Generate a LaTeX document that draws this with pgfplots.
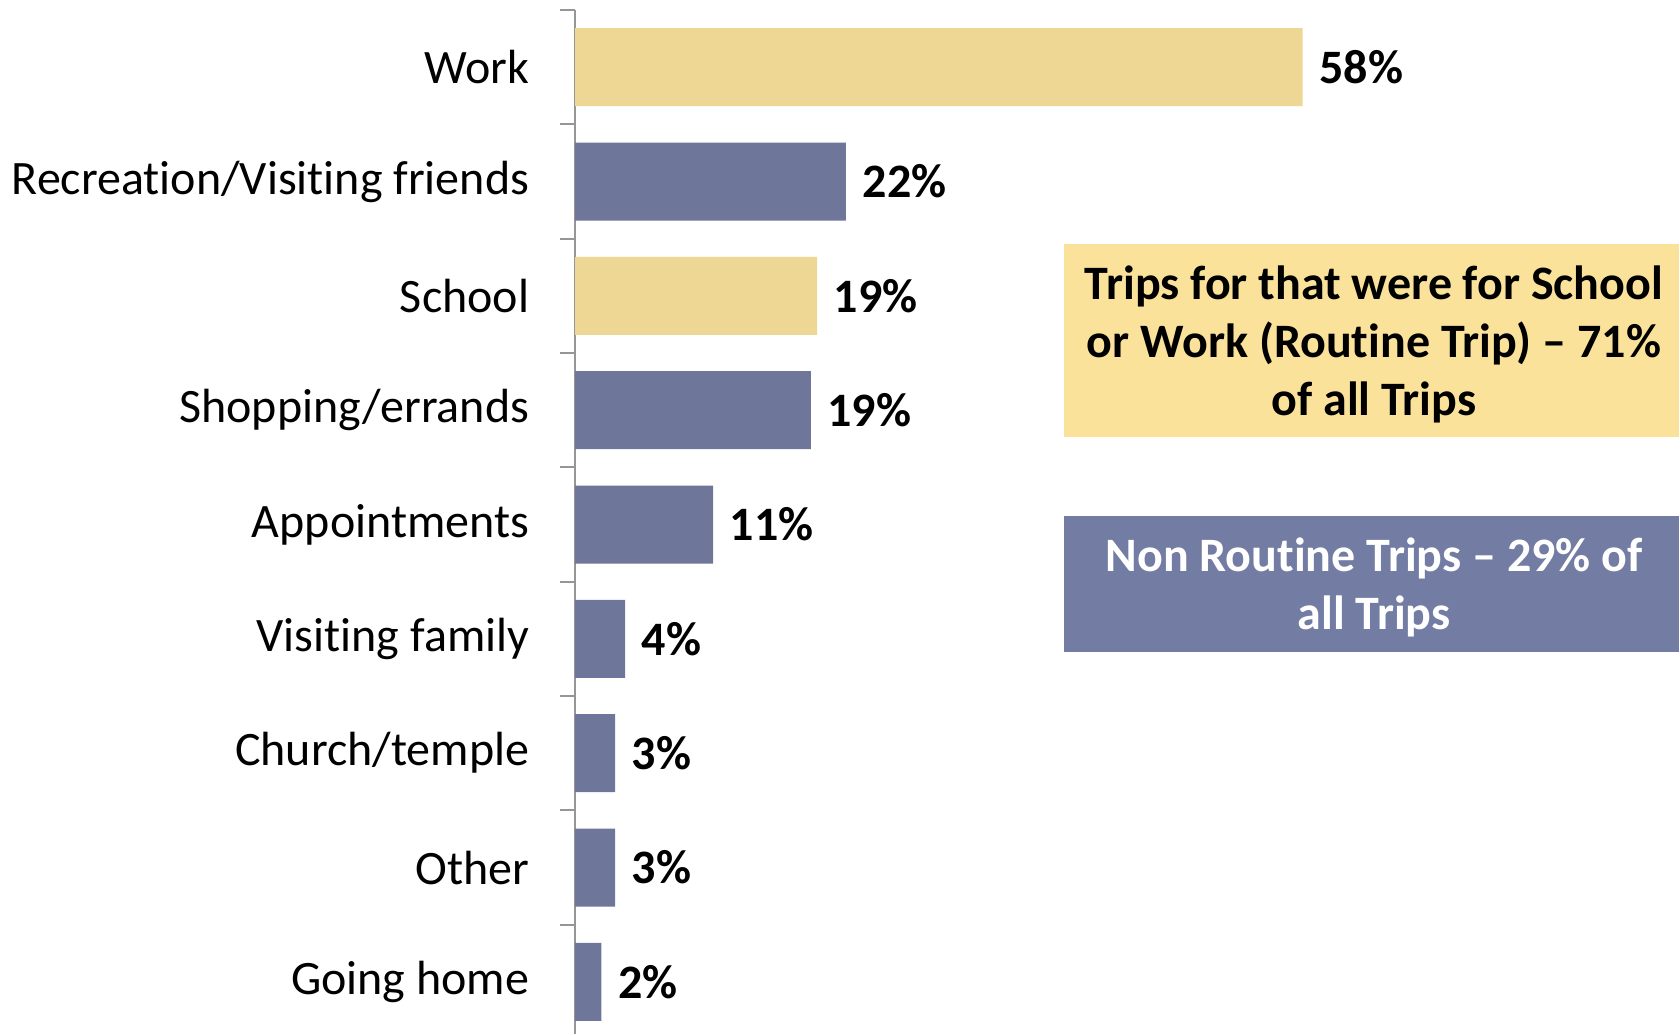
\documentclass[border=0pt]{standalone}
\usepackage{pgfplots}
\pgfplotsset{compat=1.18}
\usepackage{pgfplotstable}
\usepackage{fontspec}
\setmainfont{Carlito}[Ligatures=NoCommon]
\definecolor{baryel}{RGB}{238,215,148}
\definecolor{barblu}{RGB}{110,119,153}
\definecolor{boxyel}{RGB}{250,226,155}
\definecolor{boxblu}{RGB}{115,124,163}
\definecolor{axgray}{RGB}{150,150,150}

\pgfplotstableread{
pos val lab
0 58 58
2 19.3 19
}\routine
\pgfplotstableread{
pos val lab
1 21.6 22
3 18.8 19
4 11.0 11
5 4.0 4
6 3.2 3
7 3.2 3
8 2.1 2
}\nonroutine

\begin{document}
\fontsize{12pt}{14.5pt}\selectfont
\begin{tikzpicture}
\useasboundingbox (0,0) rectangle (419.75pt,-258.25pt);
\begin{axis}[
 at={(143.75pt,-2.5pt)}, anchor=north west,
 scale only axis, width=276pt, height=257.25pt,
 xmin=0, xmax=88, ymin=-0.5, ymax=8.5, y dir=reverse,
 axis x line=none, axis y line*=left,
 ytick={0,...,8},
 yticklabels={Work,Recreation/Visiting friends,School,Shopping/errands,Appointments,Visiting family,Church/temple,Other,Going home},
 major tick length=0pt,
 minor ytick={-0.5,0.5,...,8.5}, minor tick length=3.75pt, tick align=outside,
 y axis line style={axgray, line width=0.5pt},
 tick style={axgray, line width=0.5pt},
 yticklabel style={font=\fontsize{12pt}{14pt}\selectfont, inner sep=0pt, xshift=-11.25pt},
 xbar, bar width=19.5pt,
 nodes near coords={\pgfplotspointmeta\%},
 nodes near coords style={font=\fontsize{12pt}{14pt}\selectfont\bfseries, anchor=west, inner sep=0pt, xshift=4pt, text=black},
 point meta=explicit symbolic,
 clip=false,
]
\addplot[fill=baryel, draw=none, bar shift=0pt] table[x=val, y=pos, meta=lab] {\routine};
\addplot[fill=barblu, draw=none, bar shift=0pt] table[x=val, y=pos, meta=lab] {\nonroutine};
\end{axis}
\fill[boxyel] (266pt,-61pt) rectangle (419.75pt,-109.25pt);
\node[align=center, font=\bfseries, inner sep=0pt] at (343.5pt,-86.2pt) {Trips for that were for School\\or Work (Routine Trip) – 71\%\\of all Trips};
\fill[boxblu] (266pt,-129pt) rectangle (419.75pt,-163pt);
\node[align=center, font=\bfseries, text=white, inner sep=0pt] at (343.5pt,-146.8pt) {Non Routine Trips – 29\% of\\all Trips};
\end{tikzpicture}
\end{document}
